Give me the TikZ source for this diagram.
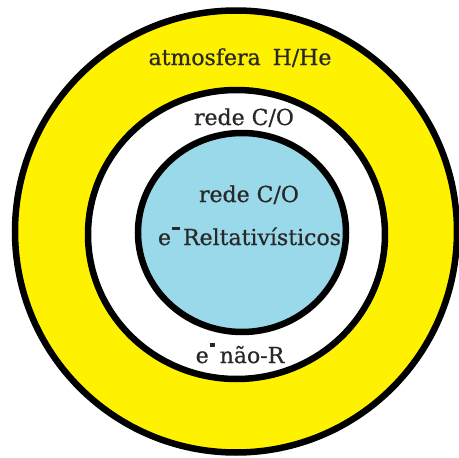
\documentclass[tikz,border=0pt]{standalone}
\usepackage{fontspec}
\setmainfont[FakeBold=0.7]{DejaVu Serif}
\definecolor{paintyellow}{RGB}{255,242,0}
\definecolor{paintblue}{RGB}{153,217,234}
\definecolor{ink}{RGB}{40,40,40}
\begin{document}
\begin{tikzpicture}[x=1pt,y=-1pt,
  ring/.style={draw=black,line width=6.5pt},
  lbl/.style={inner sep=0pt,anchor=base,text=ink,font=\fontsize{22}{24}\selectfont}]
\useasboundingbox (0,0) rectangle (459,458);
\fill[white] (0,0) rectangle (459,458);
\draw[ring,fill=paintyellow] (236,231.5) ellipse [x radius=221, y radius=221];
\draw[ring,fill=white] (236.5,234.5) ellipse [x radius=148.5, y radius=144.5];
\draw[ring,fill=paintblue] (242,232.5) ellipse [x radius=104, y radius=99.5];
\node[lbl] (atm) at (240,65) {atmosfera\hspace{12pt}H/He};
\node[lbl] (rede1) at (244,125) {rede C/O};
\node[lbl] (rede2) at (249,202) {rede C/O};
\node[lbl] (rel) at (249.5,245) {e\hspace{1pt}\rule[15pt]{8pt}{3pt}\hspace{3pt}Reltativísticos};
\node[lbl] (naor) at (240,363) {e\hspace{1pt}\rule[16pt]{5pt}{4pt}\hspace{5pt}não-R};
\end{tikzpicture}
\end{document}
